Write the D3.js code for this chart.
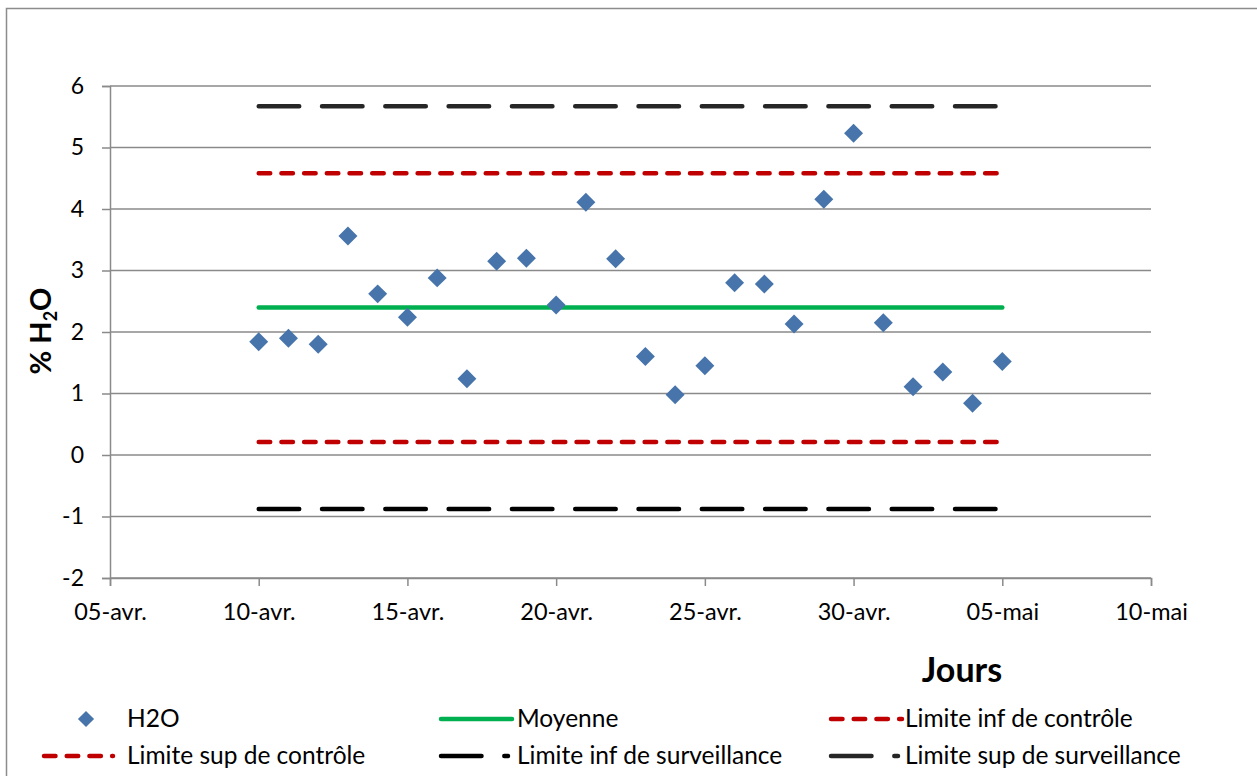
<!DOCTYPE html>
<html><head><meta charset="utf-8">
<script src="https://cdn.jsdelivr.net/npm/d3@7"></script>
<style>body{margin:0;background:#fff;} svg{display:block;font-family:Lato,'Open Sans',sans-serif;}</style>
</head><body>
<svg id="c" width="1257" height="776"></svg>
<script>
const days = ["2024-04-10","2024-04-11","2024-04-12","2024-04-13","2024-04-14","2024-04-15","2024-04-16","2024-04-17","2024-04-18","2024-04-19","2024-04-20","2024-04-21","2024-04-22","2024-04-23","2024-04-24","2024-04-25","2024-04-26","2024-04-27","2024-04-28","2024-04-29","2024-04-30","2024-05-01","2024-05-02","2024-05-03","2024-05-04","2024-05-05"];
const h2o = [1.84,1.90,1.80,3.56,2.62,2.24,2.88,1.24,3.15,3.20,2.44,4.11,3.19,1.60,0.98,1.45,2.80,2.78,2.13,4.16,5.23,2.15,1.11,1.35,0.84,1.52];
const moyenne = 2.40;
const limInfControle = 0.21;
const limSupControle = 4.58;
const limInfSurv = -0.88;
const limSupSurv = 5.67;
const xTickDates = ["2024-04-05","2024-04-10","2024-04-15","2024-04-20","2024-04-25","2024-04-30","2024-05-05","2024-05-10"];
const xTickLabels = ["05-avr.","10-avr.","15-avr.","20-avr.","25-avr.","30-avr.","05-mai","10-mai"];
const yTicks = [-2,-1,0,1,2,3,4,5,6];
const yTickLabels = ["-2","-1","0","1","2","3","4","5","6"];

const parse = d3.utcParse("%Y-%m-%d");
const svg = d3.select("#c");
const L = 110, R = 1151, T = 86, B = 578;

// outer border
svg.append("rect").attr("x",6.5).attr("y",8.5).attr("width",1270).attr("height",800)
  .attr("fill","none").attr("stroke","#8c8c8c").attr("stroke-width",1.5);

const x = d3.scaleUtc().domain([parse(xTickDates[0]), parse(xTickDates[xTickDates.length-1])]).range([L,R]);
const y = d3.scaleLinear().domain([-2,6]).range([B,T]);

// gridlines
svg.append("g").selectAll("line").data(yTicks).join("line")
  .attr("x1",L).attr("x2",R).attr("y1",d=>y(d)).attr("y2",d=>y(d))
  .attr("stroke","#8a8a8a").attr("stroke-width",1.5);

// y axis
const ya = svg.append("g").attr("transform",`translate(${L},0)`)
  .call(d3.axisLeft(y).tickValues(yTicks).tickSize(8).tickFormat((d,i)=>yTickLabels[i]));
ya.select(".domain").attr("stroke","#8a8a8a").attr("stroke-width",1.5);
ya.selectAll(".tick line").attr("stroke","#8a8a8a").attr("stroke-width",1.5);
ya.selectAll(".tick text").attr("font-size",23).attr("font-family","Lato,sans-serif").attr("fill","#000").attr("x",-26);

// x axis
const xa = svg.append("g").attr("transform",`translate(0,${B})`)
  .call(d3.axisBottom(x).tickValues(xTickDates.map(parse)).tickSize(8)
    .tickFormat((d,i)=>xTickLabels[i]));
xa.select(".domain").attr("stroke","#8a8a8a").attr("stroke-width",1.5);
xa.selectAll(".tick line").attr("stroke","#8a8a8a").attr("stroke-width",1.5);
xa.selectAll(".tick text").attr("font-size",23.5).attr("font-family","Lato,sans-serif").attr("fill","#000")
  .attr("y",42).attr("dy",0);

// horizontal reference lines
const x0 = x(parse(days[0])), x1 = x(parse(days[days.length-1]));
function hline(v, color, dash, w){
  svg.append("line").attr("x1",x0).attr("x2",x1).attr("y1",y(v)).attr("y2",y(v))
    .attr("stroke",color).attr("stroke-width",w).attr("stroke-linecap","round")
    .attr("stroke-dasharray",dash);
}
hline(limSupSurv,"#262626","40.5 22.8",4.5);
hline(limInfSurv,"#000000","40.5 22.8",4.5);
hline(limSupControle,"#c00000","11.5 11.2",4.5);
hline(limInfControle,"#c00000","11.5 11.2",4.5);
hline(moyenne,"#00b050",null,4.5);

// diamonds
const diamond = d3.symbol().type(d3.symbolSquare).size(180);
svg.append("g").selectAll("path").data(days).join("path")
  .attr("d",diamond)
  .attr("transform",(d,i)=>`translate(${x(parse(d))},${y(h2o[i])}) rotate(45)`)
  .attr("fill","#4674ab");

// y axis title
const yt = svg.append("text").attr("transform","translate(51,331) rotate(-90)")
  .attr("text-anchor","middle").attr("font-weight","bold").attr("font-size",29).attr("fill","#000");
yt.append("tspan").text("% H");
yt.append("tspan").text("2").attr("font-size",18).attr("dy",6);
yt.append("tspan").text("O").attr("dy",-6);

// x axis title
svg.append("text").attr("x",962).attr("y",682).attr("text-anchor","middle")
  .attr("font-weight","bold").attr("font-size",34).attr("fill","#000").text("Jours");

// legend
const lg = svg.append("g").attr("font-size",24.5).attr("fill","#000");
// row 1
lg.append("path").attr("d",d3.symbol().type(d3.symbolSquare).size(130))
  .attr("transform","translate(86,719) rotate(45)").attr("fill","#4674ab");
lg.append("text").attr("x",127).attr("y",727).text("H2O");
lg.append("line").attr("x1",441).attr("x2",512).attr("y1",719).attr("y2",719)
  .attr("stroke","#00b050").attr("stroke-width",4.5).attr("stroke-linecap","round");
lg.append("text").attr("x",517).attr("y",727).text("Moyenne");
lg.append("line").attr("x1",831).attr("x2",902).attr("y1",719).attr("y2",719)
  .attr("stroke","#c00000").attr("stroke-width",4.5).attr("stroke-linecap","round").attr("stroke-dasharray","11.5 11.2");
lg.append("text").attr("x",905).attr("y",727).text("Limite inf de contrôle");
// row 2
lg.append("line").attr("x1",44).attr("x2",113).attr("y1",756).attr("y2",756)
  .attr("stroke","#c00000").attr("stroke-width",4.5).attr("stroke-linecap","round").attr("stroke-dasharray","11.5 11.2");
lg.append("text").attr("x",127).attr("y",764).text("Limite sup de contrôle");
lg.append("line").attr("x1",441).attr("x2",508).attr("y1",756).attr("y2",756)
  .attr("stroke","#000").attr("stroke-width",4.5).attr("stroke-linecap","round").attr("stroke-dasharray","40.5 22.8");
lg.append("text").attr("x",517).attr("y",764).text("Limite inf de surveillance");
lg.append("line").attr("x1",831).attr("x2",898).attr("y1",756).attr("y2",756)
  .attr("stroke","#262626").attr("stroke-width",4.5).attr("stroke-linecap","round").attr("stroke-dasharray","40.5 22.8");
lg.append("text").attr("x",905).attr("y",764).text("Limite sup de surveillance");
</script>
</body></html>
